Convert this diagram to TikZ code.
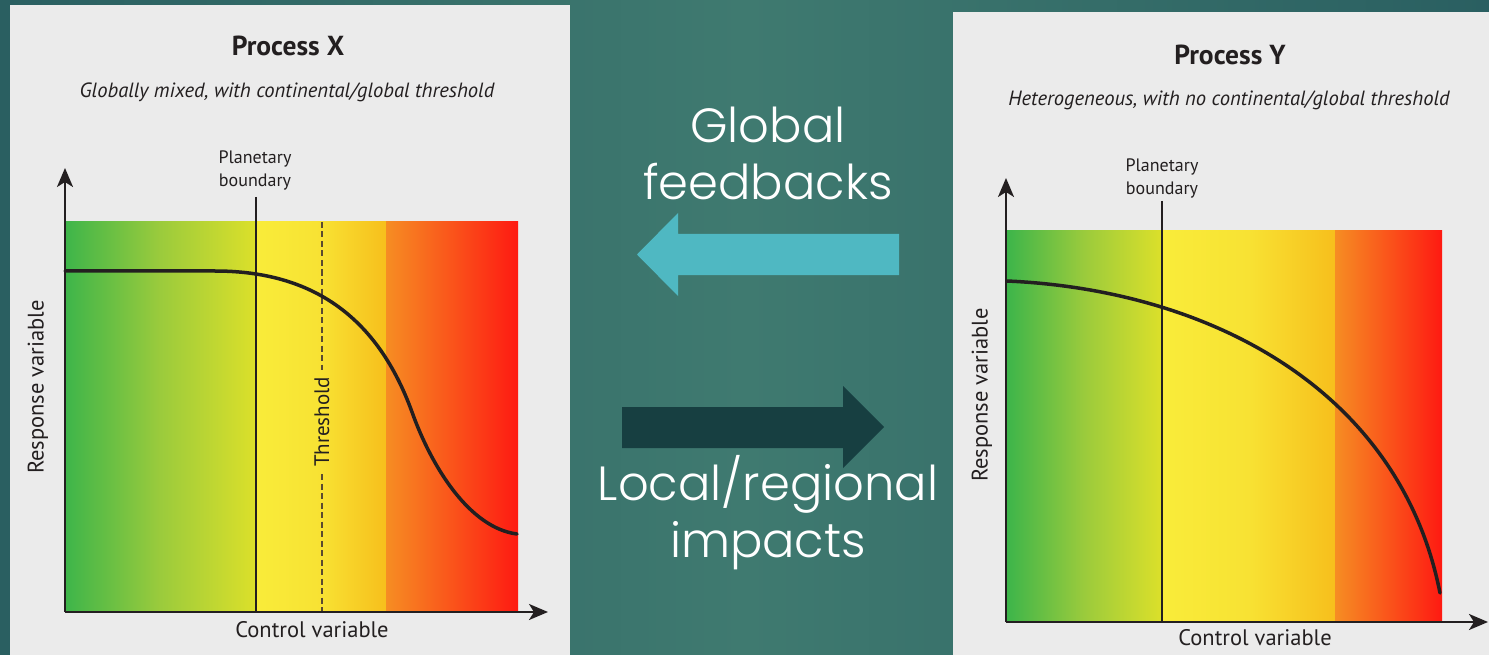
\documentclass[tikz,border=0pt]{standalone}
\usepackage{fontspec}
\setmainfont{PT Sans}
\newfontfamily\slidefont{Poppins Light}
\usetikzlibrary{arrows.meta}

\definecolor{bgdark}{HTML}{2A5F61}
\definecolor{bgmid}{HTML}{3F7A70}
\definecolor{panel}{HTML}{EBEBEB}
\definecolor{ink}{HTML}{231F20}
\definecolor{dashink}{HTML}{5A4A30}
\definecolor{cgreen}{HTML}{3DB54A}
\definecolor{cgreenmid}{HTML}{9BCB3C}
\definecolor{cyellowgreen}{HTML}{DCE02A}
\definecolor{cyellow}{HTML}{F9EC3A}
\definecolor{cyellowmid}{HTML}{F8E233}
\definecolor{cgold}{HTML}{F7BF1C}
\definecolor{corange}{HTML}{F68D23}
\definecolor{cred}{HTML}{FE1A12}
\definecolor{arrowlight}{HTML}{4FB8C2}
\definecolor{arrowdark}{HTML}{173F41}

\tikzset{
  axisline/.style={ink, line width=2.2pt, -{Stealth[length=19pt,width=16pt,inset=5pt]}},
  boundline/.style={ink, line width=1.2pt},
  threshline/.style={dashink, line width=2pt, dash pattern=on 6pt off 3.5pt},
  response/.style={ink, line width=3.5pt, line cap=round},
  title/.style={ink, font=\bfseries\fontsize{27.5}{30}\selectfont},
  subtitle/.style={ink, font=\itshape\fontsize{20.6}{23}\selectfont},
  smalllabel/.style={ink, font=\fontsize{18}{23}\selectfont, align=center},
  axislabel/.style={ink, font=\fontsize{22.5}{25}\selectfont},
  slidetext/.style={white, font=\slidefont\fontsize{48}{57}\selectfont, align=center},
}

\begin{document}
\begin{tikzpicture}[x=1pt,y=-1pt]
\useasboundingbox (0,0) rectangle (1489,655);

% slide background
\shade[left color=bgdark, right color=bgdark, middle color=bgmid] (0,0) rectangle (1489,655);

% ---------- Process X ----------
\fill[panel] (10,5) rectangle (570,655);
\shade[left color=cgreen, right color=cyellowgreen, middle color=cgreenmid] (65,222) rectangle (256,612);
\shade[left color=cyellow, right color=cgold, middle color=cyellowmid] (256,222) rectangle (386,612);
\shade[left color=corange, right color=cred] (386,222) rectangle (518,612);

\node[title] (tx) at (288,46) {Process X};
\node[subtitle] (sx) at (287,92) {Globally mixed, with continental/global threshold};
\node[smalllabel] (pbx) at (255,170) {Planetary\\boundary};
\draw[boundline] (256,197) -- (256,612);

\node[ink, font=\fontsize{21}{23}\selectfont, rotate=90, inner sep=7pt] (thr) at (322,422) {Threshold};
\draw[threshline] (322,222) -- (thr.east);
\draw[threshline] (thr.west) -- (322,612);

\draw[response] (65,271) -- (215,271)
  .. controls (305,271) and (375,310) .. (412,412)
  .. controls (432,468) and (470,528) .. (517,534);

\coordinate (ox) at (65,612);
\coordinate (yx) at (65,168);
\coordinate (xx) at (548,612);
\draw[axisline] (ox) -- (yx);
\draw[axisline] (ox) -- (xx);
\node[axislabel] (cx) at (312,630) {Control variable};
\node[axislabel, rotate=90] (rx) at (38,387) {Response variable};

% ---------- Process Y ----------
\fill[panel] (953,12) rectangle (1489,655);
\shade[left color=cgreen, right color=cyellowgreen, middle color=cgreenmid] (1007,231) rectangle (1162,622);
\shade[left color=cyellow, right color=cgold, middle color=cyellowmid] (1162,231) rectangle (1335,622);
\shade[left color=corange, right color=cred] (1335,231) rectangle (1442,622);

\node[title] (ty) at (1230,55) {Process Y};
\node[subtitle] (sy) at (1229,100) {Heterogeneous, with no continental/global threshold};
\node[smalllabel] (pby) at (1162,178) {Planetary\\boundary};
\draw[boundline] (1162,201) -- (1162,622);

\draw[response] (1007,281) .. controls (1210,290) and (1400,390) .. (1440,593);

\coordinate (oy) at (1006,622);
\coordinate (yy) at (1006,178);
\coordinate (xy) at (1488,622);
\draw[axisline] (oy) -- (yy);
\draw[axisline] (oy) -- (xy);
\node[axislabel] (cy) at (1255,638) {Control variable};
\node[axislabel, rotate=90] (ry) at (982,395) {Response variable};

% ---------- centre: feedbacks and impacts ----------
\node[slidetext] (gf) at (768,153) {Global\\feedbacks};
\fill[arrowlight] (899,234) -- (678,234) -- (678,213) -- (637,254.5) -- (678,296) -- (678,275) -- (899,275) -- cycle;
\fill[arrowdark] (622,407) -- (843,407) -- (843,386) -- (884,427) -- (843,468) -- (843,448) -- (622,448) -- cycle;
\node[slidetext] (li) at (768,513) {Local/regional\\impacts};
\end{tikzpicture}
\end{document}
